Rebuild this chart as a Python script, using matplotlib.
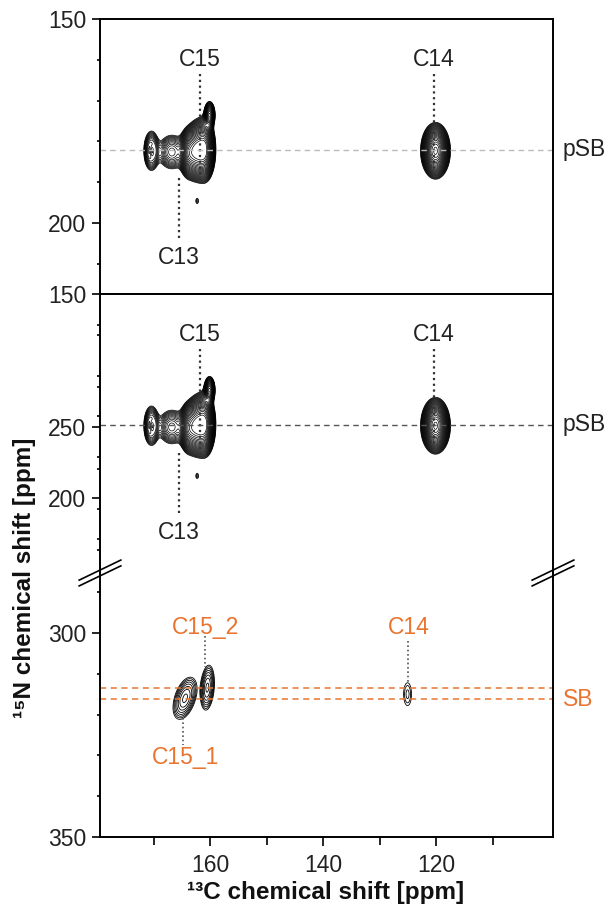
import numpy as np
import matplotlib
matplotlib.use('Agg')
import matplotlib.pyplot as plt
import matplotlib.transforms as mtrans

plt.rcParams['font.family'] = ['Liberation Sans', 'DejaVu Sans']

# ---- peak list: 13C ppm, 15N ppm, widths, amplitude
# pSB spectrum (same in upper two panels)
psb_c = [161.0, 162.4, 163.8, 160.1, 166.8, 170.4, 170.3, 162.3, 120.1]
psb_n = [182.0, 182.3, 182.8, 173.5, 182.6, 182.3, 182.4, 194.6, 182.3]
psb_wc = [0.8, 0.8, 0.75, 0.45, 1.3, 0.7, 0.3, 0.3, 1.05]
psb_wn = [3.2, 3.0, 2.7, 1.5, 2.3, 2.5, 1.2, 0.8, 2.75]
psb_amp = [1.0, 0.85, 0.6, 0.45, 0.2, 0.26, -0.14, 0.055, 1.0]
psb_tilt = [0, 0, 0, 0, 0, 0, 0, 0, 0]

# SB spectrum (lower panel)
sb_c = [164.45, 160.5, 125.05]
sb_n = [316.0, 313.4, 315.0]
sb_wc = [0.85, 0.55, 0.55]
sb_wn = [2.3, 2.45, 2.2]
sb_amp = [0.5, 0.5, 0.09]
sb_tilt = [0.18, 0.05, 0]

psb_level = 182.1
sb_levels = [313.5, 316.2]

# assignments: label, 13C ppm, label 15N ppm, dotted-line start/end
top_labels = ['C15', 'C13', 'C14']
top_lab_c = [161.8, 165.6, 120.4]
top_lab_n = [160.0, 208.5, 160.0]
top_line_c = [161.8, 165.5, 120.4]
top_line_n0 = [163.5, 189.0, 163.5]
top_line_n1 = [189.5, 203.6, 188.0]

sb_labels = ['C15_2', 'C15_1', 'C14']
sb_lab_c = [160.9, 164.4, 124.9]
sb_lab_n = [298.6, 330.4, 298.6]
sb_line_c = [160.9, 164.8, 124.9]
sb_line_n0 = [300.8, 320.8, 302.0]
sb_line_n1 = [308.3, 327.4, 312.5]

orange = '#e8742f'


def spectrum(X, Y, cs, ns, wcs, wns, amps, tilts):
    Z = np.zeros_like(X)
    for c, n, wc, wn, a, t in zip(cs, ns, wcs, wns, amps, tilts):
        Z += a * np.exp(-0.5 * (((X - c - t * (Y - n)) / wc) ** 2 + ((Y - n) / wn) ** 2))
    return Z


xc = np.arange(99, 181, 0.04)
yn_top = np.arange(148, 222, 0.08)
yn_low = np.arange(283, 352, 0.08)
X1, Y1 = np.meshgrid(xc, yn_top)
Z1 = spectrum(X1, Y1, psb_c, psb_n, psb_wc, psb_wn, psb_amp, psb_tilt)
X3, Y3 = np.meshgrid(xc, yn_low)
Z3 = spectrum(X3, Y3, sb_c, sb_n, sb_wc, sb_wn, sb_amp, sb_tilt)

fig = plt.figure(figsize=(6.1, 9.11), dpi=100)
L, W = 100 / 610, 453 / 610
ax1 = fig.add_axes([L, (911 - 294) / 911, W, 275 / 911])
ax2 = fig.add_axes([L, (911 - 573) / 911, W, 279 / 911])
ax3 = fig.add_axes([L, (911 - 837) / 911, W, 264 / 911])

lev_top = np.geomspace(0.04, 0.95, 26)
lev_low = np.geomspace(0.04, 0.9, 10)
fs = 16.5

for ax in (ax1, ax2, ax3):
    ax.set_xlim(179.5, 99.3)
    for s in ax.spines.values():
        s.set_linewidth(1.4)
    ax.tick_params(axis='y', which='major', length=6, width=1.2, pad=4,
                   labelsize=fs, labelcolor='#222')
    ax.tick_params(axis='y', which='minor', length=2.5, width=1.2)

for ax in (ax1, ax2):
    ax.contour(X1, Y1, Z1, levels=lev_top, colors='black', linewidths=0.5)
    ax.tick_params(axis='x', which='both', bottom=False, labelbottom=False)
    for lab, lc, ln, c, n0, n1 in zip(top_labels, top_lab_c, top_lab_n,
                                      top_line_c, top_line_n0, top_line_n1):
        ax.plot([c, c], [n0, n1], color='#333', lw=1.6, ls=(0, (1, 1.6)))
        ax.text(lc, ln, lab, ha='center', va='center', fontsize=fs, color='#222')
    tr = mtrans.blended_transform_factory(ax.transAxes, ax.transData)
    ax.text(1.022, psb_level, 'pSB', transform=tr, ha='left', va='center',
            fontsize=fs, color='#222', clip_on=False)

ax1.axhline(psb_level, color='#bbbbbb', lw=1.0, ls=(0, (4, 3)))
ax2.axhline(psb_level, color='#555555', lw=1.0, ls=(0, (4, 3)))

ax1.set_ylim(217.4, 150)
ax1.set_yticks([150, 200])
ax1.set_yticks([160, 170, 180, 190, 210], minor=True)

ax2.set_ylim(218.4, 150)
ax2.set_yticks([150, 182.6, 200])
ax2.set_yticklabels(['150', '250', '200'])
ax2.set_yticks([157.5, 160, 170, 172.8, 180, 190, 192.8, 202.8, 210, 212.8], minor=True)
ax2.spines['bottom'].set_visible(False)

# lower panel: SB
ax3.contour(X3, Y3, Z3, levels=lev_low, colors='black', linewidths=0.6)
for n in sb_levels:
    ax3.axhline(n, color=orange, lw=1.1, ls=(0, (4, 3)))
for lab, lc, ln, c, n0, n1 in zip(sb_labels, sb_lab_c, sb_lab_n,
                                  sb_line_c, sb_line_n0, sb_line_n1):
    ax3.plot([c, c], [n0, n1], color='#555', lw=1.2, ls=(0, (1, 1.6)))
    ax3.text(lc, ln, lab, ha='center', va='center', fontsize=fs, color=orange)
tr3 = mtrans.blended_transform_factory(ax3.transAxes, ax3.transData)
ax3.text(1.022, sb_levels[1], 'SB', transform=tr3, ha='left', va='center',
         fontsize=fs, color=orange, clip_on=False)
ax3.set_ylim(350, 285.3)
ax3.set_yticks([300, 350])
ax3.set_yticks([290, 310, 320, 330, 340], minor=True)
ax3.spines['top'].set_visible(False)
ax3.set_xticks([160, 140, 120])
ax3.set_xticks([170, 150, 130, 110], minor=True)
ax3.tick_params(axis='x', which='major', length=6.5, width=1.2, pad=6,
                labelsize=fs, labelcolor='#222')
ax3.tick_params(axis='x', which='minor', length=6, width=1.2)

# axis break marks
for xb in (0.0, 1.0):
    for dy in (-0.011, 0.011):
        ax3.plot([xb - 0.046, xb + 0.046], [1 - 0.038 + dy, 1 + 0.038 + dy],
                 transform=ax3.transAxes, color='black', lw=1.2, clip_on=False)

fig.text(326 / 610, 1 - 893 / 911, '¹³C chemical shift [ppm]', ha='center',
         va='center', fontsize=17.5, fontweight='bold', color='#111')
fig.text(25 / 610, 1 - 578 / 911, '¹⁵N chemical shift [ppm]', ha='center',
         va='center', rotation=90, fontsize=17.5, fontweight='bold', color='#111')

fig.savefig('out.png', dpi=100)
